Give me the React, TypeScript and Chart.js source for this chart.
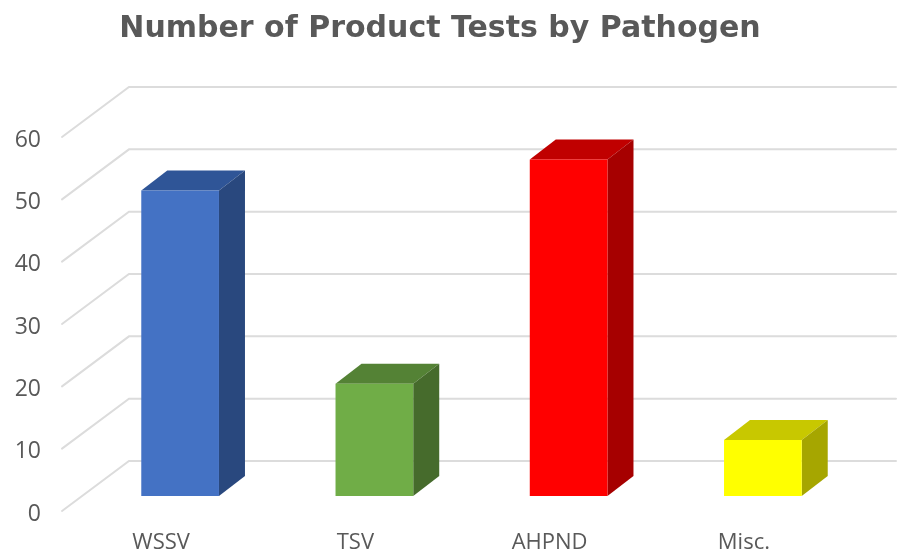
import React, { useEffect, useRef } from "react";
import { Chart, registerables } from "chart.js";

Chart.register(...registerables);

const TITLE = "Number of Product Tests by Pathogen";
const categories = ["WSSV", "TSV", "AHPND", "Misc."];
const testCounts = [49, 18, 54, 9];
const frontColors = ["#4472C4", "#70AD47", "#FF0000", "#FFFF00"];
const topColors = ["#2F5597", "#548235", "#C00000", "#C8C800"];
const sideColors = ["#29487E", "#466B2C", "#A60000", "#A6A600"];

const TEXT = "#595959";
const GRID = "#DCDCDC";
const FRONT_X = 62;
const FRONT_DY = -3;
const WALL_X = 129;
const WALL_DY = -53;
const WALL_RIGHT = 896;
const BAR_DX = 19;
const BAR_DY = -18;
const DEPTH_X = 26;
const DEPTH_Y = -20;

const poly = (ctx: CanvasRenderingContext2D, pts: number[][], fill: string) => {
  ctx.beginPath();
  pts.forEach(([x, y], i) => (i ? ctx.lineTo(x, y) : ctx.moveTo(x, y)));
  ctx.closePath();
  ctx.fillStyle = fill;
  ctx.fill();
};

const titlePlacementPlugin = {
  id: "titlePlacement",
  afterLayout(chart: any) {
    if (chart.titleBlock) chart.titleBlock.left = 39;
  },
};

const wallPlugin = {
  id: "wall",
  beforeDatasetsDraw(chart: any) {
    const { ctx, scales } = chart;
    ctx.save();
    ctx.strokeStyle = GRID;
    ctx.lineWidth = 2;
    ctx.lineCap = "round";
    scales.y.ticks.forEach((t: any) => {
      const y = scales.y.getPixelForValue(t.value);
      ctx.beginPath();
      ctx.moveTo(FRONT_X, y + FRONT_DY);
      ctx.lineTo(WALL_X, y + WALL_DY);
      ctx.lineTo(WALL_RIGHT, y + WALL_DY);
      ctx.stroke();
    });
    ctx.restore();
  },
};

const barsPlugin = {
  id: "bars3d",
  beforeDatasetDraw(chart: any) {
    const ctx = chart.ctx;
    ctx.save();
    ctx.translate(BAR_DX, BAR_DY);
    chart.getDatasetMeta(0).data.forEach((bar: any, i: number) => {
      const l = bar.x - bar.width / 2;
      const r = bar.x + bar.width / 2;
      const t = bar.y;
      const b = bar.base;
      poly(ctx, [[l, t], [r, t], [r + DEPTH_X, t + DEPTH_Y], [l + DEPTH_X, t + DEPTH_Y]], topColors[i]);
      poly(ctx, [[r, t], [r + DEPTH_X, t + DEPTH_Y], [r + DEPTH_X, b + DEPTH_Y], [r, b]], sideColors[i]);
    });
  },
  afterDatasetDraw(chart: any) {
    chart.ctx.restore();
  },
};

export default function App() {
  const ref = useRef<HTMLCanvasElement>(null);
  useEffect(() => {
    const chart = new Chart(ref.current as HTMLCanvasElement, {
      type: "bar",
      data: {
        labels: categories,
        datasets: [
          {
            label: "Number of Product Tests",
            data: testCounts,
            backgroundColor: frontColors,
            borderWidth: 0,
            barPercentage: 0.4,
            categoryPercentage: 1,
            clip: false,
          } as any,
        ],
      },
      plugins: [titlePlacementPlugin, wallPlugin, barsPlugin],
      options: {
        responsive: false,
        animation: false,
        layout: { padding: { left: 0, right: 57, top: 0, bottom: 0 } },
        plugins: {
          legend: { display: false },
          tooltip: { enabled: false },
          title: {
            display: true,
            text: TITLE,
            color: TEXT,
            font: { family: "DejaVu Sans", size: 30, weight: "bold" },
            padding: { top: 11, bottom: 93 },
          },
        },
        scales: {
          x: {
            grid: { display: false },
            border: { display: false },
            ticks: {
              color: TEXT,
              padding: 8,
              font: { family: "Open Sans", size: 22 },
            },
            afterFit(s: any) {
              s.height = 38;
            },
          },
          y: {
            min: 0,
            max: 60,
            grid: { display: false },
            border: { display: false },
            ticks: {
              stepSize: 10,
              color: TEXT,
              padding: 15,
              font: { family: "Open Sans", size: 23 },
            },
            afterFit(s: any) {
              s.width = 64;
            },
          },
        },
      } as any,
    });
    return () => chart.destroy();
  }, []);
  return (
    <div style={{ position: "absolute", left: 0, top: 0, width: 898, height: 552, background: "#fff" }}>
      <canvas ref={ref} width={898} height={552} style={{ display: "block" }} />
    </div>
  );
}
